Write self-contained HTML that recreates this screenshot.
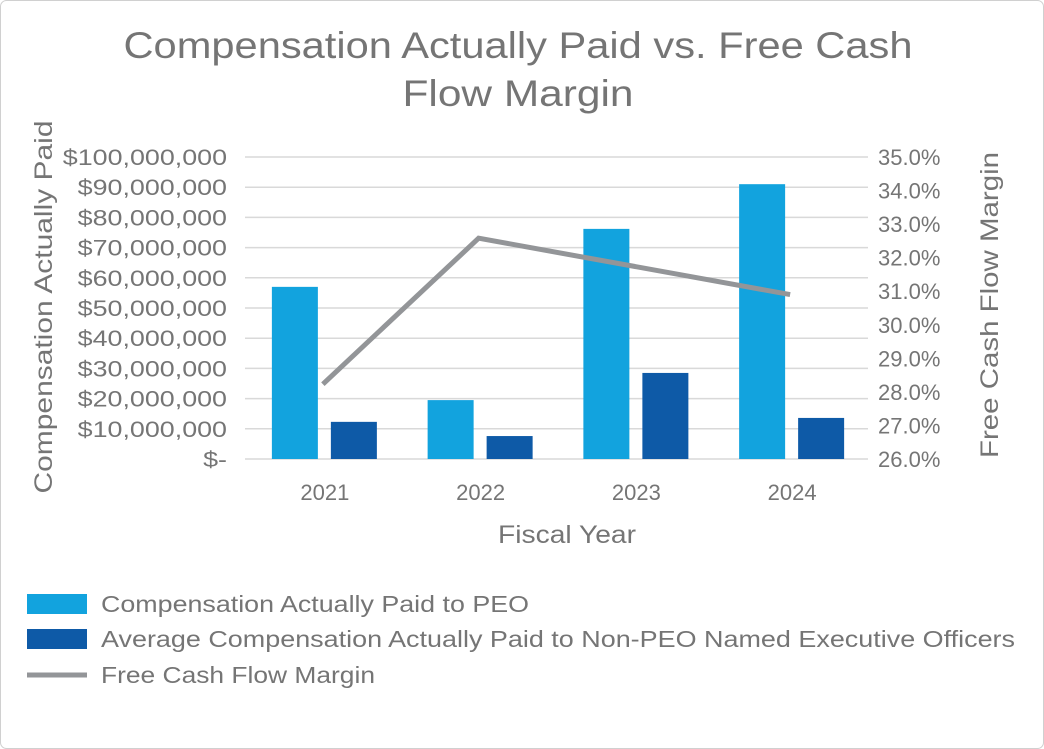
<!DOCTYPE html>
<html><head><meta charset="utf-8"><style>
body{margin:0;background:#fff;}
svg{display:block;font-family:"Liberation Sans","DejaVu Sans",sans-serif;}
</style></head><body>
<svg id="chart" width="1044" height="749">
<rect x="0.5" y="0.5" width="1043" height="748" rx="6" fill="#fff" stroke="#d0d0d0"/>
<text x="518" y="58" font-size="37" fill="#757575" text-anchor="middle" textLength="789" lengthAdjust="spacingAndGlyphs">Compensation Actually Paid vs. Free Cash</text>
<text x="518" y="106" font-size="37" fill="#757575" text-anchor="middle" textLength="231" lengthAdjust="spacingAndGlyphs">Flow Margin</text>
<g id="grid"></g><g id="bars"></g><g id="line"></g><g id="axes"></g>
<text transform="translate(52,307) rotate(-90)" font-size="25" fill="#757575" text-anchor="middle" textLength="373" lengthAdjust="spacingAndGlyphs">Compensation Actually Paid</text>
<text transform="translate(998,305) rotate(-90)" font-size="25" fill="#757575" text-anchor="middle" textLength="306" lengthAdjust="spacingAndGlyphs">Free Cash Flow Margin</text>
<text x="567" y="543" font-size="25" fill="#757575" text-anchor="middle" textLength="138" lengthAdjust="spacingAndGlyphs">Fiscal Year</text>
<g>
<rect x="27" y="594" width="60" height="20" fill="#12a3de"/>
<text x="101" y="612" font-size="23" fill="#757575" textLength="428" lengthAdjust="spacingAndGlyphs">Compensation Actually Paid to PEO</text>
<rect x="27" y="629" width="60" height="20" fill="#0e5aa7"/>
<text x="101" y="647" font-size="23" fill="#757575" textLength="914" lengthAdjust="spacingAndGlyphs">Average Compensation Actually Paid to Non-PEO Named Executive Officers</text>
<line x1="27" y1="675" x2="87" y2="675" stroke="#939598" stroke-width="5"/>
<text x="101" y="683" font-size="23" fill="#757575" textLength="274" lengthAdjust="spacingAndGlyphs">Free Cash Flow Margin</text>
</g>
</svg>
<script>
const categories=["2021","2022","2023","2024"];
const peoValues=[57000000,19500000,76200000,91000000];
const neoValues=[12300000,7600000,28500000,13600000];
const fcfMargin=[28.23,32.58,31.74,30.9];
const leftTicks=[0,10,20,30,40,50,60,70,80,90,100];
const rightTicks=[26,27,28,29,30,31,32,33,34,35];
const NS="http://www.w3.org/2000/svg";
const X0=245,X1=868,Y0=459,Y1=157;
const band=(X1-X0)/categories.length;
const yL=v=>Y0-(v/100000000)*(Y0-Y1);
const yR=v=>Y0-((v-26)/9)*(Y0-Y1);
const xc=i=>X0+band*(i+0.5);
function mk(tag,attrs,parent,txt){const e=document.createElementNS(NS,tag);for(const k in attrs)e.setAttribute(k,attrs[k]);if(txt!==undefined)e.textContent=txt;document.getElementById(parent).appendChild(e);return e;}
leftTicks.forEach(t=>{
 const y=yL(t*1e6);
 const g=mk("line",{x1:X0,x2:X1,y1:y,y2:y,stroke:"#d9d9d9","stroke-width":1.5},"grid");
 
 
 const lab=t===0?"$-":"$"+(t*1e6).toLocaleString("en-US");
 const tx=mk("text",{x:227,y:y+8,"font-size":22,fill:"#757575","text-anchor":"end"},"axes",lab);
 
 
 const w=tx.getComputedTextLength();
 tx.setAttribute("textLength",(w*1.22).toFixed(1));
 tx.setAttribute("lengthAdjust","spacingAndGlyphs");
});
rightTicks.forEach(t=>{
 const tx=mk("text",{x:878,y:yR(t)+8,"font-size":22,fill:"#757575"},"axes",t.toFixed(1)+"%");
 
 
});
categories.forEach((c,i)=>{
 const cx=xc(i);
 const b1=mk("rect",{x:cx-51,y:yL(peoValues[i]),width:46,height:Y0-yL(peoValues[i]),fill:"#12a3de"},"bars");
 
 
 const b2=mk("rect",{x:cx+8,y:yL(neoValues[i]),width:46,height:Y0-yL(neoValues[i]),fill:"#0e5aa7"},"bars");
 
 
 const tx=mk("text",{x:cx+2,y:500,"font-size":22,fill:"#757575","text-anchor":"middle"},"axes",c);
 
 
});
const pl=mk("polyline",{points:fcfMargin.map((v,i)=>xc(i)+","+yR(v)).join(" "),fill:"none",stroke:"#939598","stroke-width":5},"line");


</script>
</body></html>
